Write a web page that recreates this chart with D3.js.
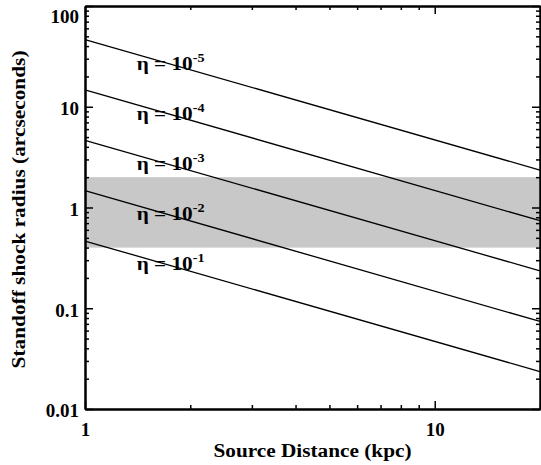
<!DOCTYPE html>
<html><head><meta charset="utf-8">
<script src="https://cdn.jsdelivr.net/npm/d3@7"></script>
<style>body{margin:0;background:#fff}svg{display:block}</style>
</head><body>
<script>
// ---- data ----
const etaExponents = ["-5", "-4", "-3", "-2", "-1"];
const radiusAt1kpc = [46.5, 14.7, 4.65, 1.47, 0.465];
const radiusAt20kpc = [2.35, 0.74, 0.235, 0.074, 0.0235];
const lineDistances = [1, 20];
const labelDistance = [1.406, 1.406, 1.406, 1.406, 1.406];
const labelRadius = [23.2, 7.39, 2.35, 0.75, 0.24];
const bandRange = [0.4, 2];
const xDomain = [1, 20];
const yDomain = [0.01, 100];
const xTickValues = [1, 10];
const xTickLabels = ["1", "10"];
const xMinorValues = [2, 3, 4, 5, 6, 7, 8, 9, 20];
const yTickValues = [0.01, 0.1, 1, 10, 100];
const yTickLabels = ["0.01", "0.1", "1", "10", "100"];
const yMinorValues = [0.02,0.03,0.04,0.05,0.06,0.07,0.08,0.09,0.2,0.3,0.4,0.5,0.6,0.7,0.8,0.9,2,3,4,5,6,7,8,9,20,30,40,50,60,70,80,90];
const xTitle = "Source Distance (kpc)";
const yTitle = "Standoff shock radius (arcseconds)";

// ---- layout ----
const W = 541, H = 465;
const L = 85, R = 540, T = 6, B = 409;
const FONT = "'Liberation Serif', 'Times New Roman', serif";

const svg = d3.select("body").append("svg").attr("width", W).attr("height", H);
const x = d3.scaleLog().domain(xDomain).range([L, R]);
const y = d3.scaleLog().domain(yDomain).range([B, T]);

// band
svg.append("rect")
  .attr("x", x(xDomain[0])).attr("width", x(xDomain[1]) - x(xDomain[0]))
  .attr("y", y(bandRange[1])).attr("height", y(bandRange[0]) - y(bandRange[1]))
  .attr("fill", "#c8c8c8");

// lines
const line = d3.line().x(d => x(d[0])).y(d => y(d[1]));
radiusAt1kpc.forEach((r0, i) => {
  svg.append("path")
    .attr("d", line([[lineDistances[0], r0], [lineDistances[1], radiusAt20kpc[i]]]))
    .attr("fill", "none").attr("stroke", "#000").attr("stroke-width", 1.3);
});

// eta labels
etaExponents.forEach((e, i) => {
  const g = svg.append("g")
    .attr("transform", `translate(${x(labelDistance[i])},${y(labelRadius[i])}) scale(1.18,1)`);
  const t = g.append("text").attr("font-family", FONT).attr("font-weight", "bold")
    .attr("font-size", 18).attr("fill", "#000");
  t.append("tspan").text("η = 10");
  t.append("tspan").attr("font-size", 12).attr("dy", -8).text(e);
});

// axes
function styleAxis(g) {
  g.selectAll("path.domain").attr("stroke", "#000").attr("stroke-width", 2);
  g.selectAll(".tick line").attr("stroke", "#000").attr("stroke-width", 1.5);
  g.selectAll(".tick text").attr("font-family", FONT).attr("font-weight", "bold")
    .attr("font-size", 19).attr("fill", "#000");
}
// bottom
svg.append("g").attr("transform", `translate(0,${B})`)
  .call(d3.axisBottom(x).tickValues(xTickValues).tickFormat((d, i) => xTickLabels[i])
    .tickSizeInner(-8).tickSizeOuter(0).tickPadding(14))
  .call(styleAxis);
svg.append("g").attr("transform", `translate(0,${B})`)
  .call(d3.axisBottom(x).tickValues(xMinorValues).tickFormat("").tickSizeInner(-4).tickSizeOuter(0))
  .call(styleAxis);
// top
svg.append("g").attr("transform", `translate(0,${T})`)
  .call(d3.axisTop(x).tickValues(xTickValues).tickFormat("").tickSizeInner(-8).tickSizeOuter(0))
  .call(styleAxis);
svg.append("g").attr("transform", `translate(0,${T})`)
  .call(d3.axisTop(x).tickValues(xMinorValues).tickFormat("").tickSizeInner(-4).tickSizeOuter(0))
  .call(styleAxis);
// left
const leftAxis = svg.append("g").attr("transform", `translate(${L},0)`)
  .call(d3.axisLeft(y).tickValues(yTickValues).tickFormat((d, i) => yTickLabels[i])
    .tickSizeInner(-8).tickSizeOuter(0).tickPadding(6))
  .call(styleAxis);
leftAxis.selectAll(".tick text").attr("dy", d => d === yDomain[1] ? "0.85em" : "0.42em");
svg.append("g").attr("transform", `translate(${L},0)`)
  .call(d3.axisLeft(y).tickValues(yMinorValues).tickFormat("").tickSizeInner(-4).tickSizeOuter(0))
  .call(styleAxis);
// right
svg.append("g").attr("transform", `translate(${R},0)`)
  .call(d3.axisRight(y).tickValues(yTickValues).tickFormat("").tickSizeInner(-8).tickSizeOuter(0))
  .call(styleAxis);
svg.append("g").attr("transform", `translate(${R},0)`)
  .call(d3.axisRight(y).tickValues(yMinorValues).tickFormat("").tickSizeInner(-4).tickSizeOuter(0))
  .call(styleAxis);

// titles
svg.append("text").attr("x", (L + R) / 2).attr("y", 457)
  .attr("text-anchor", "middle").attr("font-family", FONT).attr("font-weight", "bold")
  .attr("font-size", 18).attr("textLength", 198).attr("lengthAdjust", "spacingAndGlyphs")
  .text(xTitle);
svg.append("text").attr("transform", `translate(25,${(T + B) / 2 + 2}) rotate(-90)`)
  .attr("text-anchor", "middle").attr("font-family", FONT).attr("font-weight", "bold")
  .attr("font-size", 18).attr("textLength", 318).attr("lengthAdjust", "spacingAndGlyphs")
  .text(yTitle);
</script>
</body></html>
